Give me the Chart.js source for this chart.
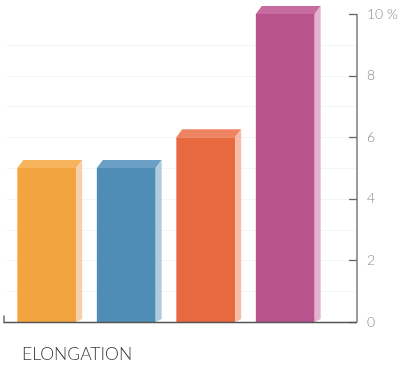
<!DOCTYPE html>
<html>
<head>
<meta charset="utf-8">
<script src="https://cdn.jsdelivr.net/npm/chart.js@4.4.1/dist/chart.umd.min.js"></script>
<style>
  html, body { margin: 0; padding: 0; background: #fff; }
  #wrap { width: 400px; height: 365px; }
</style>
</head>
<body>
<div id="wrap"><canvas id="elongChart"></canvas></div>
<script>
const categories = ['A', 'B', 'C', 'D']
const elongation = [5, 5, 6, 10]
const yTicks = [0, 2, 4, 6, 8, 10]
const axisTitle = 'ELONGATION'

// front / top / side colours of each 3d bar
const frontColors = ['#f2a43e', '#4f8cb6', '#e8683f', '#b8538e']
const topColors = ['#f6b45c', '#6c9fc4', '#ee8461', '#c56b9f']
const sideColors = ['#f7cfa8', '#afcbe0', '#f5bba6', '#e2b3cf']

const ctx = document.getElementById('elongChart')

// draws top + right side faces, axis line, ticks, baseline and the title
const boxPlugin = {
    id: 'boxPlugin',
    beforeDatasetsDraw(chart) {
        const c = chart.ctx
        const y = chart.scales.y
        const area = chart.chartArea
        const axisX = area.right + 32
        c.save()
        c.strokeStyle = '#f3f4f4'
        c.lineWidth = 1
        for (let v = 1; v < 10; v++) {
            const py = Math.round(y.getPixelForValue(v)) + 0.5
            c.beginPath()
            c.moveTo(area.left, py)
            c.lineTo(axisX, py)
            c.stroke()
        }
        c.restore()
    },
    afterDatasetsDraw(chart) {
        const c = chart.ctx
        const meta = chart.getDatasetMeta(0)
        const dx = 6, dy = -8
        c.save()
        meta.data.forEach((bar, i) => {
            const l = bar.x - bar.width / 2
            const r = bar.x + bar.width / 2
            const t = bar.y
            const b = bar.base
            // top face
            c.fillStyle = topColors[i]
            c.beginPath()
            c.moveTo(l, t)
            c.lineTo(l + dx, t + dy)
            c.lineTo(r + dx, t + dy)
            c.lineTo(r, t)
            c.closePath()
            c.fill()
            // side face
            c.fillStyle = sideColors[i]
            c.beginPath()
            c.moveTo(r, t)
            c.lineTo(r + dx, t + dy)
            c.lineTo(r + dx, b - 3)
            c.lineTo(r, b)
            c.closePath()
            c.fill()
        })

        const y = chart.scales.y
        const area = chart.chartArea
        const axisX = area.right + 32
        const y0 = Math.round(y.getPixelForValue(0)) + 0.5
        const yTop = y.getPixelForValue(yTicks[yTicks.length - 1])

        c.strokeStyle = '#666'
        c.lineWidth = 1.3
        // right axis
        c.beginPath()
        c.moveTo(axisX, yTop)
        c.lineTo(axisX, y0)
        c.stroke()
        // tick marks pointing into the plot
        yTicks.forEach(v => {
            const py = Math.round(y.getPixelForValue(v)) + 0.5
            c.beginPath()
            c.moveTo(axisX - 8, py)
            c.lineTo(axisX, py)
            c.stroke()
        })
        // baseline with small end tick
        c.strokeStyle = '#555'
        c.beginPath()
        c.moveTo(area.left - 3, y0 - 7)
        c.lineTo(area.left - 3, y0)
        c.lineTo(axisX, y0)
        c.stroke()

        c.fillStyle = '#3c3c3c'
        c.font = '300 17.5px Lato'
        c.textBaseline = 'alphabetic'
        c.textAlign = 'left'
        c.fillText(axisTitle, area.left + 15, 360)
        c.restore()
    }
}

const elongChart = new Chart(ctx, {
    type: 'bar',
    data: {
        labels: categories,
        datasets: [{
            data: elongation,
            backgroundColor: frontColors,
            borderWidth: 0,
            barPercentage: 0.74,
            categoryPercentage: 1
        }]
    },
    options: {
        responsive: true,
        maintainAspectRatio: false,
        animation: false,
        layout: {
            padding: { top: 14, bottom: 43, left: 7, right: 0 }
        },
        plugins: {
            legend: { display: false },
            tooltip: { enabled: false }
        },
        scales: {
            x: {
                display: false
            },
            y: {
                position: 'right',
                min: 0,
                max: 10,
                afterFit(scale) { scale.width = 75 },
                afterBuildTicks(scale) {
                    scale.ticks = yTicks.map(v => ({ value: v }))
                },
                // tickLength only pushes the labels out, the marks are drawn by the plugin
                grid: { display: false, drawTicks: true, tickLength: 38 },
                border: { display: false },
                ticks: {
                    padding: 4,
                    color: '#8a8a8a',
                    font: { family: 'Lato', size: 14, weight: '300' },
                    callback: v => v === 10 ? '10 %' : v
                }
            }
        }
    },
    plugins: [boxPlugin]
});
</script>
</body>
</html>
